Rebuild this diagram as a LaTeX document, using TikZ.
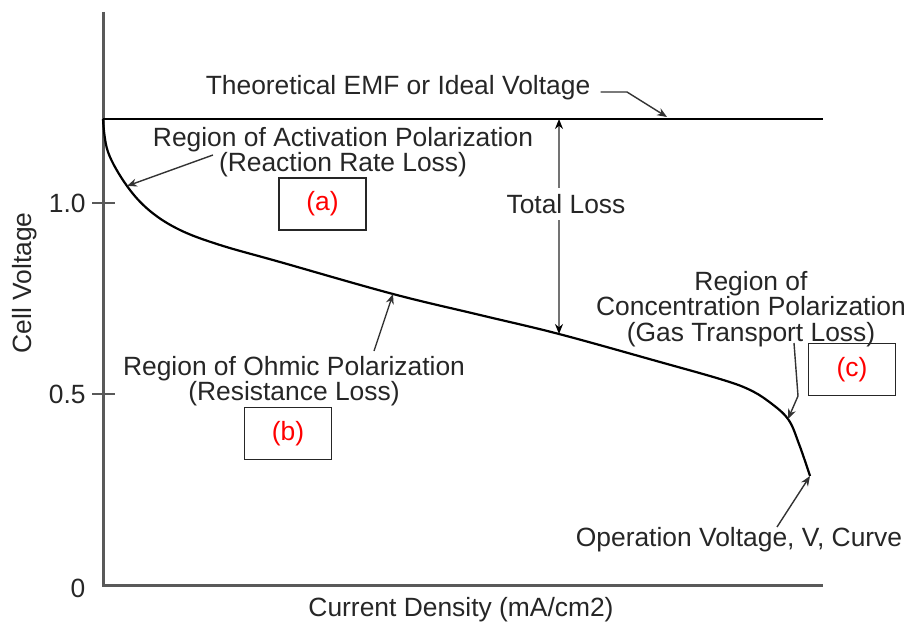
\documentclass[tikz,border=0pt]{standalone}
\usepackage{fontspec}
\setmainfont{Liberation Sans}
\usepackage{tikz}
\usetikzlibrary{arrows.meta}

\begin{document}
\begin{tikzpicture}[x=0.5pt, y=-0.5pt,
      lbl/.style={text=black!85, font=\fontsize{13.2}{12.6}\selectfont,
         align=center, inner sep=0pt},
      tag/.style={draw=black!85, line width=0.7pt, text=red,
         font=\fontsize{13.2}{15}\selectfont, minimum width=43.5pt,
         minimum height=26pt, inner sep=0pt},
      pointer/.style={draw=black!80, line width=0.7pt,
         -{Stealth[length=5pt, width=4pt]}},
      axis/.style={draw=black!65, line width=1.5pt}]
         \useasboundingbox (0,0) rectangle (911,626);

         % axes
         \coordinate (ytop) at (103,12);
         \coordinate (o) at (103,585);
         \coordinate (xend) at (823,585);
         \draw [axis] (ytop) -- (o) -- (xend);
         \draw [axis, line width=1pt] (92,203) -- (115,203);
         \draw [axis, line width=1pt] (92,394) -- (115,394);
         \node (v10) at (86,203) [lbl, anchor=east] {1.0};
         \node (v05) at (86,394) [lbl, anchor=east] {0.5};
         \node (v0) at (78,588) [lbl] {0};
         \node (ylab) at (25,283) [lbl, rotate=90] {Cell Voltage};
         \node (xlab) at (461,610) [lbl] {Current Density (mA/cm2)};

         % ideal voltage
         \coordinate (emf0) at (103,119);
         \coordinate (emf1) at (823,119);
         \draw [black, line width=1pt] (emf0) -- (emf1);

         % operating curve
         \coordinate (pa) at (127,186);
         \coordinate (pb) at (393,294);
         \coordinate (pt) at (559,334);
         \coordinate (pc) at (788,419);
         \coordinate (pv) at (810,476);
         \draw [black, line width=1.1pt] plot [smooth, tension=0.6]
            coordinates {(103,119) (108,152) (pa) (150,211) (180,230)
            (220,245) (280,262) (pb) (480,315) (pt) (660,362)
            (720,379) (748,389) (768,401) (pc) (799,444) (pv)};

         % labels
         \node (emf) at (398,88) [lbl] {Theoretical EMF or Ideal Voltage};
         \node (act) at (343,152) [lbl]
            {Region of Activation Polarization\\(Reaction Rate Loss)};
         \node (ohm) at (294,381) [lbl]
            {Region of Ohmic Polarization\\(Resistance Loss)};
         \node (conc) at (751,309) [lbl]
            {Region of\\Concentration Polarization\\(Gas Transport Loss)};
         \node (op) at (739,540) [lbl] {Operation Voltage, V, Curve};

         \node (ta) at (322.5,204) [tag] {(a)};
         \node (tb) at (288,433.5) [tag] {(b)};
         \node (tc) at (852,369.5) [tag] {(c)};

         % pointers
         \coordinate (emfk) at (627,92);
         \coordinate (emfp) at (667,117);
         \draw [pointer] (emf.east) ++(10,4) -- (emfk) -- (emfp);
         \coordinate (actS) at (213,155);
         \draw [pointer] (actS) -- (pa);
         \coordinate (ohmS) at (374,351);
         \draw [pointer] (ohmS) -- (pb);
         \coordinate (concS) at (794,343);
         \coordinate (concK) at (798,396);
         \draw [pointer] (concS) -- (concK) -- (pc);
         \coordinate (opS) at (777,527);
         \draw [pointer] (opS) -- (pv);

         % total loss
         \draw [draw=black!55, line width=1pt,
            {Stealth[length=5pt, width=4pt, black]}-{Stealth[length=5pt, width=4pt, black]}]
            (559,119) -- (pt);
         \node (tl) at (566,204) [lbl, fill=white, inner ysep=3pt] {Total Loss};
      \end{tikzpicture}
\end{document}
